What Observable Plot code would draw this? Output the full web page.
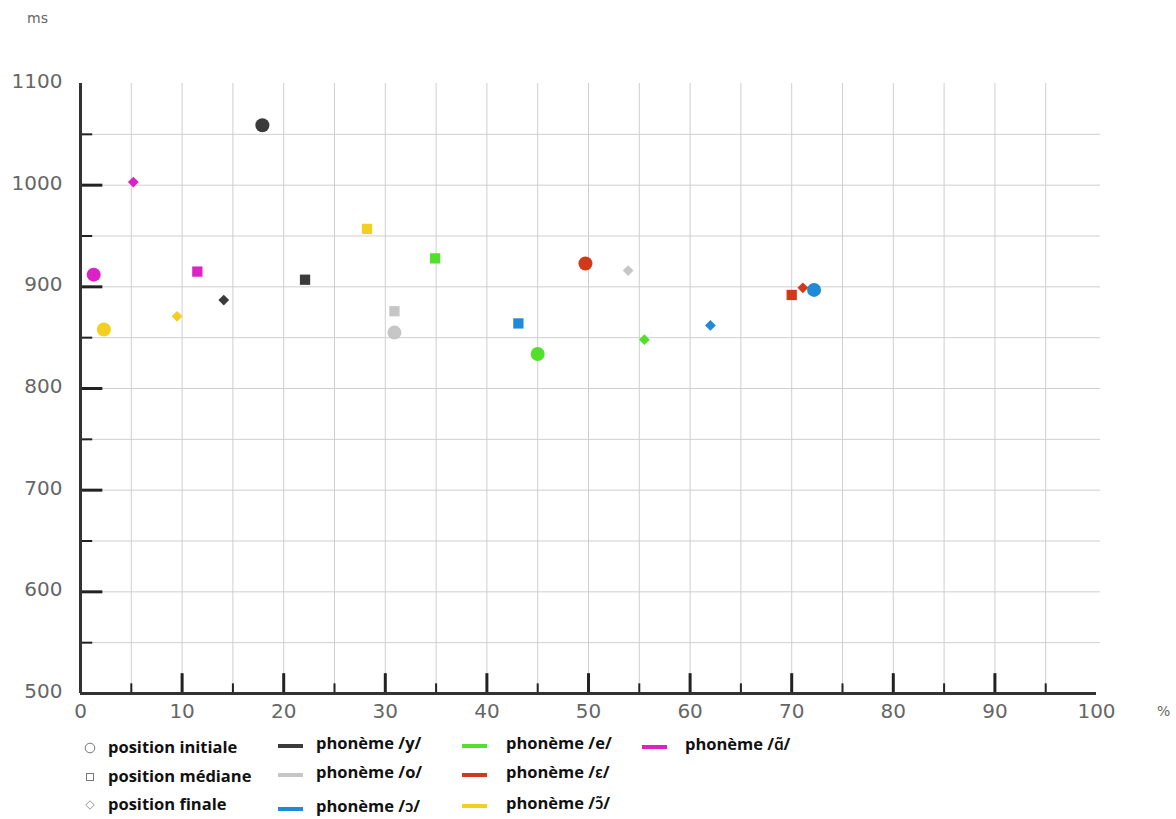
<!DOCTYPE html>
<html>
<head>
<meta charset="utf-8">
<script src="https://cdn.jsdelivr.net/npm/d3@7"></script>
<script src="https://cdn.jsdelivr.net/npm/@observablehq/plot@0.6"></script>
<style>
  html, body { margin: 0; padding: 0; background: #fff; }
  #wrap { position: relative; width: 1176px; height: 819px; overflow: hidden; }
  #chart { position: absolute; left: 0; top: 0; }
  .unit { position: absolute; font-family: "DejaVu Sans", sans-serif; color: #666; font-size: 14px; }
  .lg { position: absolute; font-family: "Open Sans", Lato, sans-serif; font-weight: 700; font-size: 16.5px; line-height: 20px; color: #111; white-space: nowrap; }
  .ln { position: absolute; width: 25px; height: 4px; }
  .sym { position: absolute; }
</style>
</head>
<body>
<div id="wrap"><div id="chart"></div></div>
<script>
// ---- data ----
const phonemes = ["y", "o", "ɔ", "e", "ɛ", "ɔ̃", "ɑ̃"];
const phonemeColors = ["#3b3b3b", "#c6c6c6", "#1f8ad6", "#52e02c", "#cf3a1b", "#f3cf1f", "#dd20c8"];
const positions = ["initiale", "médiane", "finale"];
const positionLabels = ["position initiale", "position médiane", "position finale"];

const pointPhoneme = ["y","y","y", "o","o","o", "ɔ","ɔ","ɔ", "e","e","e", "ɛ","ɛ","ɛ", "ɔ̃","ɔ̃","ɔ̃", "ɑ̃","ɑ̃","ɑ̃"];
const pointPosition = ["initiale","médiane","finale","initiale","médiane","finale","initiale","médiane","finale","initiale","médiane","finale","initiale","médiane","finale","initiale","médiane","finale","initiale","médiane","finale"];
const pointPercent = [17.9, 22.1, 14.1, 30.9, 30.9, 53.9, 72.2, 43.1, 62.0, 45.0, 34.9, 55.5, 49.7, 70.0, 71.1, 2.3, 28.2, 9.5, 1.3, 11.5, 5.2];
const pointMs = [1059, 907, 887, 855, 876, 916, 897, 864, 862, 834, 928, 848, 923, 892, 899, 858, 957, 871, 912, 915, 1003];

const xTickLabels = [0, 10, 20, 30, 40, 50, 60, 70, 80, 90, 100];
const yTickLabels = [500, 600, 700, 800, 900, 1000, 1100];
const xMajorTicks = [10, 20, 30, 40, 50, 60, 70, 80, 90];
const xMinorTicks = [5, 15, 25, 35, 45, 55, 65, 75, 85, 95];
const yMajorTicks = [600, 700, 800, 900, 1000];
const yMinorTicks = [550, 650, 750, 850, 950, 1050];
const xGrid = [5, 10, 15, 20, 25, 30, 35, 40, 45, 50, 55, 60, 65, 70, 75, 80, 85, 90, 95];
const yGrid = [550, 600, 650, 700, 750, 800, 850, 900, 950, 1000, 1050];

// ---- build ----
const points = pointPercent.map((x, i) => ({x, y: pointMs[i], phoneme: pointPhoneme[i], position: pointPosition[i]}));

const diamond = {
  draw(context, size) {
    const h = Math.sqrt(size / 2);
    context.moveTo(0, -h); context.lineTo(h, 0); context.lineTo(0, h); context.lineTo(-h, 0); context.closePath();
  }
};
const shapeSymbol = {initiale: "circle", "médiane": "square", finale: diamond};
const shapeR = {initiale: 7, "médiane": 5.8, finale: 4.3};

const tickFont = "'DejaVu Sans ExtraLight', 'DejaVu Sans', sans-serif";

const chart = Plot.plot({
  width: 1176,
  height: 730,
  marginLeft: 80,
  marginRight: 80,
  marginTop: 83,
  marginBottom: 37,
  style: {background: "#fff", fontFamily: tickFont},
  x: {domain: [0, 100]},
  y: {domain: [500, 1100]},
  color: {domain: phonemes, range: phonemeColors},
  marks: [
    Plot.ruleX(xGrid, {y1: 500, y2: 1100, stroke: "#cfcfcf", strokeWidth: 1}),
    Plot.ruleY(yGrid, {x1: 0, x2: 100.4, stroke: "#cfcfcf", strokeWidth: 1}),
    Plot.ruleX(xMajorTicks, {y1: 500, y2: 519.5, stroke: "#222", strokeWidth: 3}),
    Plot.ruleX(xMinorTicks, {y1: 500, y2: 509.5, stroke: "#222", strokeWidth: 2}),
    Plot.ruleY(yMajorTicks, {x1: 0, x2: 2.2, stroke: "#222", strokeWidth: 3}),
    Plot.ruleY(yMinorTicks, {x1: 0, x2: 1.2, stroke: "#222", strokeWidth: 2}),
    Plot.ruleY([500], {x1: 0, x2: 100, stroke: "#333", strokeWidth: 3}),
    Plot.ruleX([0], {y1: 500, y2: 1100, stroke: "#333", strokeWidth: 3}),
    Plot.axisX(xTickLabels, {tickSize: 0, tickPadding: 10, fontSize: 20, fill: "#666", label: null, tickFormat: d => String(d)}),
    Plot.axisY(yTickLabels, {tickSize: 0, tickPadding: 18, fontSize: 20, fill: "#666", dy: -2, label: null, tickFormat: d => String(d)}),
    ...positions.map(p => Plot.dot(points.filter(d => d.position === p), {
      x: "x", y: "y", fill: "phoneme", symbol: shapeSymbol[p], r: shapeR[p], stroke: "none"
    }))
  ]
});
chart.style.fontFamily = tickFont;
document.getElementById("chart").appendChild(chart);

// ---- units & legend ----
const wrap = document.getElementById("wrap");
function add(html) { wrap.insertAdjacentHTML("beforeend", html); }
add(`<div class="unit" style="left:27px;top:10px;">ms</div>`);
add(`<div class="unit" style="left:1157px;top:703px;">%</div>`);

// position legend (shapes)
const symRows = [748, 777, 805];
add(`<svg class="sym" style="left:84px;top:${symRows[0]-6}px" width="12" height="12"><circle cx="6" cy="6" r="4.8" fill="none" stroke="#777" stroke-width="1"/></svg>`);
add(`<svg class="sym" style="left:84px;top:${symRows[1]-6}px" width="12" height="12"><rect x="2.5" y="2.5" width="7" height="7" fill="none" stroke="#777" stroke-width="1"/></svg>`);
add(`<svg class="sym" style="left:84px;top:${symRows[2]-6}px" width="12" height="12"><path d="M6,1.8L10.2,6L6,10.2L1.8,6Z" fill="none" stroke="#999" stroke-width="1"/></svg>`);
positionLabels.forEach((t, i) => add(`<div class="lg" style="left:108px;top:${symRows[i]-11}px">${t}</div>`));

// phoneme legend (lines)
const legendCols = [
  {line: 278, text: 316, rows: [0, 1, 2], ys: [745, 774, 808]},
  {line: 462, text: 506, rows: [3, 4, 5], ys: [745, 774, 805]},
  {line: 642, text: 685, rows: [6], ys: [746]}
];
legendCols.forEach(c => c.rows.forEach((k, j) => {
  const y = c.ys[j];
  add(`<div class="ln" style="left:${c.line}px;top:${y-1}px;background:${phonemeColors[k]}"></div>`);
  add(`<div class="lg" style="left:${c.text}px;top:${y-12}px">phonème /${phonemes[k]}/</div>`);
}));
</script>
</body>
</html>
